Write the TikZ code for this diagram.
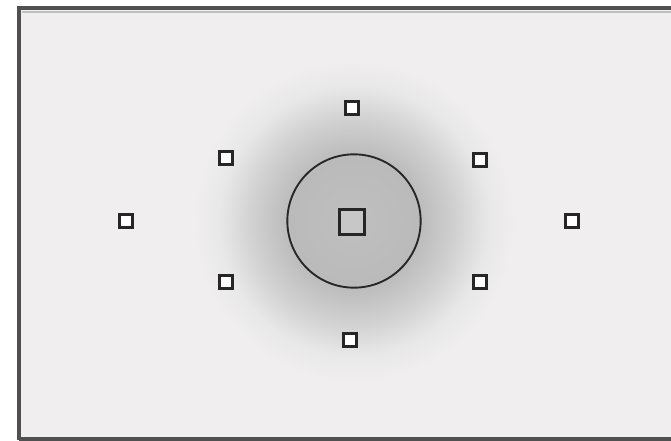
\documentclass[tikz,border=0pt]{standalone}
\usepackage{tikz}
\usetikzlibrary{positioning}
\definecolor{finderbg}{HTML}{F0EEEF}
\definecolor{framegray}{HTML}{505050}
\pgfdeclareradialshading{spotglow}{\pgfpoint{0bp}{0bp}}{%
  color(0bp)=(black!25!white);
  color(10bp)=(black!27!white);
  color(16bp)=(black!18!white);
  color(21bp)=(black!9!white);
  color(25bp)=(finderbg);
  color(50bp)=(finderbg)}

\begin{document}
\begin{tikzpicture}[x=0.75pt, y=-0.75pt,
    point/.style={rectangle, draw=black!85, fill=white, line width=1.8pt, minimum size=10pt, inner sep=0pt},
    bigpoint/.style={point, fill=black!22, minimum size=19pt},
    ring/.style={circle, draw=black!85, line width=1.4pt, minimum size=100pt, inner sep=0pt}]
  \useasboundingbox (0,0) rectangle (671,440);
  % viewfinder field
  \fill[white] (0,0) rectangle (671,440);
  \fill[finderbg] (19,8) rectangle (671,440);
  \shade[shading=spotglow] (354,221) circle (160);
  % frame edges
  \draw[framegray, line width=3.5pt] (19,440) -- (19,8) -- (671,8);
  \draw[black!25, line width=1.5pt] (22,11.5) -- (671,11.5);
  \draw[framegray, line width=3pt] (19,439) -- (671,439);
  % spot metering circle and AF points
  \node[ring]     (spot)   at (354,221) {};
  \node[bigpoint] (centre) at (352,222) {};
  \node[point]    (top)    at (352,108) {};
  \node[point]    (bottom) at (350,340) {};
  \node[point]    (left)   at (126,221) {};
  \node[point]    (right)  at (572,221) {};
  \node[point]    (ul)     at (226,158) {};
  \node[point]    (ur)     at (480,160) {};
  \node[point]    (ll)     at (226,282) {};
  \node[point]    (lr)     at (480,282) {};
\end{tikzpicture}
\end{document}
